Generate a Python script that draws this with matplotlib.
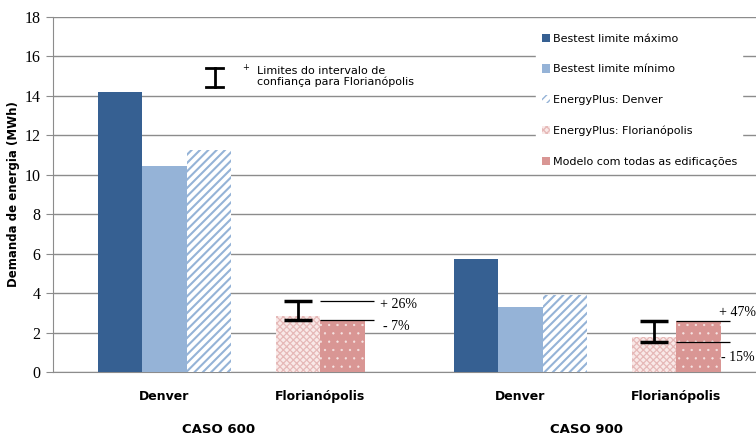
import matplotlib
matplotlib.use("Agg")
import matplotlib.pyplot as plt
from matplotlib.patches import Patch
from matplotlib.transforms import blended_transform_factory

# ── Data (MWh) ──────────────────────────────────────────────────────────────
cases = ["CASO 600", "CASO 900"]
bestest_max = [14.2, 5.73]
bestest_min = [10.45, 3.30]
ep_denver = [11.26, 3.92]
ep_floripa = [2.84, 1.77]
modelo = [2.64, 2.59]
ci_upper_pct = [26, 47]
ci_lower_pct = [7, 15]

series_labels = [
    "Bestest limite máximo",
    "Bestest limite mínimo",
    "EnergyPlus: Denver",
    "EnergyPlus: Florianópolis",
    "Modelo com todas as edificações",
]
city_labels = ["Denver", "Florianópolis"]
yticks = [0, 2, 4, 6, 8, 10, 12, 14, 16, 18]

# ── Style ───────────────────────────────────────────────────────────────────
DARK = "#366092"
LIGHT = "#95B3D7"
PINK_LIGHT = "#E6B9B8"
PINK_BG = "#F9E9E8"
PINK = "#D99694"
GRID = "#8C8C8C"
SERIF = "Liberation Serif"

STRIPES = "////"
STRIPE_LW = 1.5
CHECK_LW = 0.9
DOT_LW = 0.4

fig = plt.figure(figsize=(7.56, 4.37), dpi=100)
ax = fig.add_axes([53 / 756, 1 - 372 / 437, 1 - 53 / 756, 355 / 437])

denver_x = [2.5, 10.5]
floripa_x = [6.0, 14.0]
width = 1.0

for i in range(len(cases)):
    ax.bar(denver_x[i] - width, bestest_max[i], width, color=DARK, zorder=3)
    ax.bar(denver_x[i], bestest_min[i], width, color=LIGHT, zorder=3)
    with plt.rc_context({"hatch.linewidth": STRIPE_LW}):
        ax.bar(denver_x[i] + width, ep_denver[i], width, facecolor="white",
               edgecolor=LIGHT, hatch=STRIPES, linewidth=0, zorder=3)
    with plt.rc_context({"hatch.linewidth": CHECK_LW}):
        ax.bar(floripa_x[i] - width / 2, ep_floripa[i], width, facecolor=PINK_BG,
               edgecolor=PINK_LIGHT, hatch="xxxxx", linewidth=0, zorder=3)
    with plt.rc_context({"hatch.linewidth": DOT_LW}):
        ax.bar(floripa_x[i] + width / 2, modelo[i], width, facecolor=PINK,
               edgecolor="#F6E4E3", hatch="..", linewidth=0, zorder=3)

    # confidence interval around the EnergyPlus Florianópolis result
    hi = ep_floripa[i] * (1 + ci_upper_pct[i] / 100)
    lo = ep_floripa[i] * (1 - ci_lower_pct[i] / 100)
    mid = (hi + lo) / 2
    ax.errorbar(floripa_x[i] - width / 2, mid, yerr=(hi - lo) / 2, fmt="none",
                ecolor="black", elinewidth=2, capsize=10, capthick=2.5, zorder=4)
    x0 = floripa_x[i]
    ax.hlines([hi, lo], x0, x0 + 1.22, color="black", linewidth=0.9, zorder=4)

ax.text(7.35, 3.4, f"+ {ci_upper_pct[0]}%", family=SERIF, fontsize=10, va="center")
ax.text(7.42, 2.33, f"- {ci_lower_pct[0]}%", family=SERIF, fontsize=10, va="center")
ax.text(14.97, 3.0, f"+ {ci_upper_pct[1]}%", family=SERIF, fontsize=10, va="center")
ax.text(15.02, 0.76, f"- {ci_lower_pct[1]}%", family=SERIF, fontsize=10, va="center")

# axes
ax.set_xlim(0, 703 / 44.5)
ax.set_ylim(0, 18)
ax.set_yticks(yticks)
ax.set_yticklabels([str(t) for t in yticks], family=SERIF, fontsize=11.5)
ax.yaxis.grid(True, color=GRID, linewidth=1)
ax.set_axisbelow(True)
for side in ["top", "right"]:
    ax.spines[side].set_visible(False)
ax.spines["left"].set_color(GRID)
ax.spines["bottom"].set_color(GRID)
ax.tick_params(axis="y", length=5, color=GRID, pad=4)
ax.set_xticks(denver_x + floripa_x)
ax.set_xticklabels([city_labels[0]] * 2 + [city_labels[1]] * 2,
                   fontsize=9, fontweight="bold")
ax.tick_params(axis="x", length=0, pad=13)
ax.set_ylabel("Demanda de energia (MWh)", fontsize=8.5, fontweight="bold")
ax.yaxis.set_label_coords(-33 / 703, 0.5)

trans = blended_transform_factory(ax.transData, ax.transAxes)
for xc, name in zip([3.73, 12.0], cases):
    ax.text(xc, -0.163, name, transform=trans, ha="center", va="center",
            fontsize=9.5, fontweight="bold")

# key for the confidence interval bars
ax.plot([0.230, 0.230], [0.803, 0.855], transform=ax.transAxes, color="black", lw=2)
ax.plot([0.218, 0.242], [0.855, 0.855], transform=ax.transAxes, color="black", lw=2)
ax.plot([0.218, 0.242], [0.803, 0.803], transform=ax.transAxes, color="black", lw=2)
ax.text(0.2745, 0.859, "+", transform=ax.transAxes, fontsize=6, va="center", ha="center")
ax.text(0.290, 0.832, "Limites do intervalo de\nconfiança para Florianópolis",
        transform=ax.transAxes, fontsize=8, va="center", linespacing=1.05)

with plt.rc_context({"hatch.linewidth": STRIPE_LW}):
    stripe_key = Patch(facecolor="white", edgecolor=LIGHT, hatch=STRIPES, linewidth=0)
with plt.rc_context({"hatch.linewidth": CHECK_LW}):
    check_key = Patch(facecolor=PINK_BG, edgecolor=PINK_LIGHT, hatch="xxxxx", linewidth=0)
handles = [Patch(facecolor=DARK), Patch(facecolor=LIGHT), stripe_key, check_key,
           Patch(facecolor=PINK)]
leg = ax.legend(handles, series_labels, loc="upper left",
                bbox_to_anchor=(536 / 756, 1 - 28 / 437), bbox_transform=fig.transFigure,
                frameon=True, fancybox=False, edgecolor="white", framealpha=1,
                fontsize=8, handlelength=0.8, handleheight=0.8, handletextpad=0.2,
                labelspacing=1.85, borderpad=0.5, borderaxespad=0)

fig.savefig("out.png", dpi=100)
